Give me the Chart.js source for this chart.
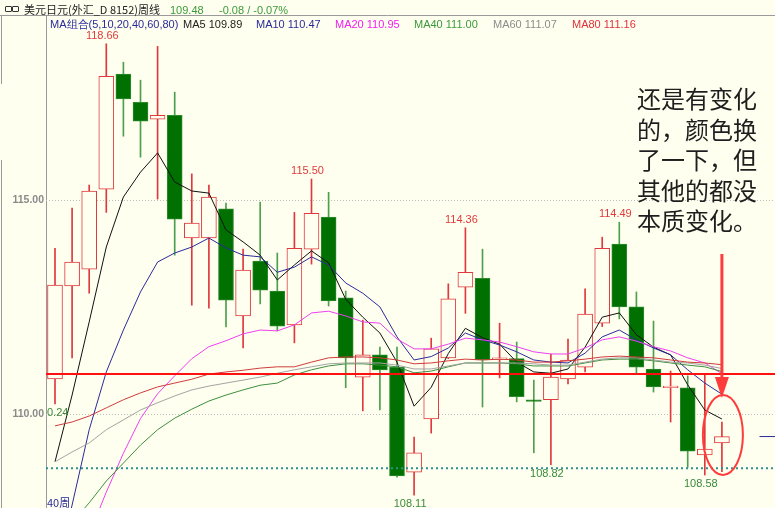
<!DOCTYPE html>
<html>
<head>
<meta charset="utf-8">
<script src="https://cdn.jsdelivr.net/npm/chart.js@4.4.1/dist/chart.umd.min.js"></script>
<style>
  body { margin: 0; background: #fffff0; overflow: hidden; }
  #wrap { position: relative; width: 775px; height: 508px; }
  canvas { position: absolute; left: 0; top: 0; }
  .t { position: absolute; white-space: nowrap; font-family: "Liberation Sans", Arial, sans-serif; font-size: 11px; line-height: 14px; }
  .cjk { font-family: "Noto Sans CJK SC", sans-serif; }
  .box { position: absolute; width: 5px; height: 4px; border: 1px solid #333; border-radius: 1px; }
  #note { position: absolute; left: 637px; top: 83px; font-family: "Noto Sans CJK SC", sans-serif; font-size: 24px; line-height: 30.5px; color: #1e1e1e; }
</style>
</head>
<body>
<div id="wrap">
  <canvas id="chart" width="775" height="508"></canvas>
  <div class="box" style="left:5px;top:6px"></div>
  <div class="box" style="left:12px;top:6px"></div>
  <div class="t cjk" style="left:24px;top:2px;color:#222">美元日元(外汇_D 8152)周线</div>
  <div class="t" style="left:170px;top:3px;color:#3a9a3a">109.48</div>
  <div class="t" style="left:219px;top:3px;color:#3a9a3a">-0.08 / -0.07%</div>

  <div class="t" style="left:50px;top:17px;color:#2b2b9a">MA组合(5,10,20,40,60,80)</div>
  <div class="t" style="left:183px;top:17px;color:#222">MA5 109.89</div>
  <div class="t" style="left:256px;top:17px;color:#2b2b9a">MA10 110.47</div>
  <div class="t" style="left:335px;top:17px;color:#f020f0">MA20 110.95</div>
  <div class="t" style="left:414px;top:17px;color:#3a9a3a">MA40 111.00</div>
  <div class="t" style="left:493px;top:17px;color:#8c8c8c">MA60 111.07</div>
  <div class="t" style="left:572px;top:17px;color:#e0303c">MA80 111.16</div>

  <div class="t" style="left:47px;top:405px;color:#3a8a3a">0.24</div>
  <div class="t cjk" style="left:47px;top:495px;color:#2b2b9a">40周</div>

  <div id="note">还是有变化<br>的，颜色换<br>了一下，但<br>其他的都没<br>本质变化。</div>
</div>
<script>
// weekly USD/JPY candles
const open  = [110.83,113.00,113.39,115.26,117.95,117.29,116.90,116.99,114.12,114.12,
               114.80,112.30,113.58,112.88,112.09,113.86,114.61,112.72,110.87,111.39,
               111.10,108.65,109.89,111.32,112.97,113.18,111.28,111.30,110.34,110.34,
               110.83,111.10,112.13,113.98,112.51,111.06,110.62,110.62,109.05,109.33];
const close = [113.02,113.56,115.22,117.90,117.37,116.85,116.99,114.56,114.47,115.08,
               112.67,113.37,112.90,112.06,113.88,114.70,112.65,111.32,111.39,111.04,
               108.56,109.10,111.53,112.70,113.32,111.27,111.32,110.41,110.30,110.87,
               111.27,112.34,113.88,112.51,111.10,110.64,110.66,109.14,109.19,109.48];
const high  = [113.88,114.82,115.36,118.66,118.23,117.81,118.60,117.53,115.62,115.36,
               114.94,113.86,114.96,113.77,114.72,115.50,115.19,112.88,112.20,111.57,
               111.57,109.47,111.78,113.05,114.36,113.86,112.13,111.69,110.80,111.41,
               111.76,112.93,114.14,114.49,112.86,112.18,111.01,110.90,110.92,109.82];
const low   = [110.24,111.32,112.83,114.72,116.50,116.01,115.03,113.72,112.55,112.48,
               112.04,111.55,112.58,111.95,111.67,113.51,112.53,110.62,110.08,110.10,
               108.53,108.11,109.56,111.30,112.36,110.17,110.85,110.29,109.10,108.82,
               110.71,110.99,112.05,112.23,110.97,110.52,109.82,108.76,108.58,108.66];

// moving averages (they include weeks before the window, so read, not computed)
const ma5  = [108.89,110.45,112.16,113.91,115.08,115.66,116.11,115.43,115.22,115.17,
              114.31,114.03,113.72,113.14,113.49,113.82,113.54,112.69,112.27,111.90,
              111.22,110.19,110.63,111.42,112.01,111.79,111.64,111.22,110.99,110.96,
              111.06,111.57,112.27,112.37,111.86,111.57,111.39,110.69,110.10,109.89];
const ma10 = [106.13,107.88,109.64,110.99,111.97,112.86,113.56,113.77,113.91,114.12,
              113.89,113.72,113.68,113.32,113.44,113.68,113.49,113.07,112.83,112.51,
              111.81,111.27,111.35,111.55,111.90,111.74,111.62,111.46,111.27,111.22,
              111.20,111.43,111.81,111.97,111.74,111.55,111.39,111.04,110.73,110.47];
const ma20 = [105.20,106.20,107.20,108.18,109.09,109.90,110.48,110.90,111.30,111.58,
              111.72,111.88,111.97,111.95,112.09,112.37,112.41,112.30,112.16,112.13,
              111.76,111.53,111.53,111.64,111.78,111.74,111.69,111.58,111.46,111.41,
              111.41,111.55,111.74,111.81,111.71,111.58,111.48,111.32,111.20,110.95];
const ma40 = [107.07,107.48,107.93,108.44,108.86,109.28,109.64,109.91,110.12,110.31,
              110.45,110.57,110.68,110.73,110.92,111.04,111.13,111.18,111.18,111.15,
              111.11,110.97,111.01,111.11,111.20,111.20,111.20,111.18,111.13,111.13,
              111.13,111.20,111.27,111.29,111.29,111.25,111.20,111.15,111.11,111.00];
const ma60 = [108.89,109.12,109.33,109.64,109.87,110.10,110.27,110.43,110.57,110.66,
              110.73,110.80,110.87,110.96,111.04,111.11,111.18,111.20,111.20,111.20,
              111.15,111.06,111.06,111.13,111.20,111.20,111.20,111.20,111.18,111.15,
              111.15,111.22,111.29,111.32,111.32,111.27,111.22,111.20,111.15,111.07];
const ma80 = [109.73,109.82,109.96,110.15,110.34,110.50,110.64,110.73,110.82,110.94,
              110.99,111.03,111.08,111.11,111.11,111.22,111.32,111.34,111.34,111.32,
              111.27,111.18,111.20,111.25,111.29,111.27,111.29,111.27,111.22,111.22,
              111.25,111.29,111.34,111.36,111.34,111.32,111.27,111.22,111.20,111.16];

const yTicks = [110, 115];
const refLevel = 110.94;      // red horizontal line
const supportLevel = 108.74;  // dotted teal line
const lastMark = 109.48;      // short navy dash on the right
const peaks = [3, 15, 24, 33];
const troughs = [21, 29, 38];

const xMin = -0.526, xMax = 42.105;
const BG = '#fffff0';
const RED = '#e0383c';
const GREEN = '#007000';
const GREEN_EDGE = '#2e8b2e';
const GREEN_WICK = '#4c9f4c';

const idx = open.map((_, i) => i);
const up = idx.map(i => close[i] >= open[i]);

function maLine(arr, color) {
    return {
        type: 'line',
        data: idx.map(i => ({ x: i, y: arr[i] })),
        borderColor: color,
        borderWidth: 1,
        pointRadius: 0,
        tension: 0,
        fill: false,
        order: 3
    };
}

const deco = {
    id: 'deco',
    beforeDraw(chart) {
        const ctx = chart.ctx;
        ctx.save();
        ctx.fillStyle = BG;
        ctx.fillRect(0, 0, chart.width, chart.height);
        ctx.strokeStyle = '#9a9a9a';
        ctx.lineWidth = 1;
        ctx.beginPath();
        ctx.moveTo(0, 15.5); ctx.lineTo(chart.width, 15.5);
        ctx.moveTo(chart.chartArea.left + 0.5, 16); ctx.lineTo(chart.chartArea.left + 0.5, chart.height);
        ctx.moveTo(1.5, 16); ctx.lineTo(1.5, 84);
        ctx.moveTo(1.5, 160); ctx.lineTo(1.5, chart.height);
        ctx.stroke();
        ctx.restore();
    },
    afterDatasetsDraw(chart) {
        const ctx = chart.ctx;
        const xs = chart.scales.x, ys = chart.scales.y;
        ctx.save();
        ctx.font = '11px "Liberation Sans", Arial, sans-serif';
        ctx.textAlign = 'center';
        ctx.textBaseline = 'middle';
        ctx.fillStyle = '#e03a3a';
        peaks.forEach(i => {
            ctx.fillText(high[i].toFixed(2), xs.getPixelForValue(i) - 4, ys.getPixelForValue(high[i]) - 8);
        });
        ctx.fillStyle = '#3a8a3a';
        troughs.forEach(i => {
            ctx.fillText(low[i].toFixed(2), xs.getPixelForValue(i) - 4, ys.getPixelForValue(low[i]) + 9);
        });

        // arrow + circle around the last candle
        const lx = xs.getPixelForValue(idx.length - 1);
        ctx.strokeStyle = '#ff3c3c';
        ctx.fillStyle = '#ff3c3c';
        ctx.lineWidth = 3;
        ctx.beginPath();
        ctx.moveTo(lx, 254); ctx.lineTo(lx, 380);
        ctx.stroke();
        ctx.beginPath();
        ctx.moveTo(lx - 7, 377); ctx.lineTo(lx + 7, 377); ctx.lineTo(lx, 398);
        ctx.closePath();
        ctx.fill();
        ctx.lineWidth = 2;
        ctx.beginPath();
        ctx.ellipse(lx + 1, 435, 20, 40, 0, 0, Math.PI * 2);
        ctx.stroke();
        ctx.restore();
    }
};

new Chart(document.getElementById('chart').getContext('2d'), {
    type: 'bar',
    data: {
        datasets: [
            {
                type: 'bar',
                data: idx.map(i => ({ x: i, y: [low[i], high[i]] })),
                backgroundColor: idx.map(i => up[i] ? RED : GREEN_WICK),
                barThickness: 1,
                grouped: false,
                order: 5
            },
            {
                type: 'bar',
                data: idx.map(i => ({ x: i, y: [open[i], close[i]] })),
                backgroundColor: idx.map(i => up[i] ? BG : GREEN),
                borderColor: idx.map(i => up[i] ? RED : GREEN_EDGE),
                borderWidth: 1,
                borderSkipped: false,
                barThickness: 15,
                grouped: false,
                order: 4
            },
            maLine(ma80, '#d03c3c'),
            maLine(ma60, '#a4a4a4'),
            maLine(ma40, '#3f8f3f'),
            maLine(ma20, '#ee40ee'),
            maLine(ma10, '#2b2b9a'),
            maLine(ma5, '#111111'),
            {
                type: 'line',
                data: [{ x: xMin, y: supportLevel }, { x: xMax, y: supportLevel }],
                borderColor: '#2f8f8f',
                borderWidth: 2,
                borderDash: [2, 3],
                pointRadius: 0,
                order: 2
            },
            {
                type: 'line',
                data: [{ x: xMin, y: refLevel }, { x: xMax, y: refLevel }],
                borderColor: '#ff1010',
                borderWidth: 2,
                pointRadius: 0,
                order: 1
            },
            {
                type: 'line',
                data: [{ x: 41.2, y: lastMark }, { x: xMax, y: lastMark }],
                borderColor: '#2b2b9a',
                borderWidth: 1,
                pointRadius: 0,
                order: 1
            }
        ]
    },
    options: {
        responsive: false,
        animation: false,
        events: [],
        layout: { autoPadding: false, padding: { top: 16, left: 0, right: 0, bottom: 0 } },
        plugins: { legend: { display: false }, tooltip: { enabled: false } },
        scales: {
            x: { type: 'linear', min: xMin, max: xMax, offset: false, display: false },
            y: {
                min: 107.81,
                max: 119.31,
                position: 'left',
                afterFit: s => {
                    s.width = 46;
                    s.paddingTop = 0;
                    s.paddingBottom = 0;
                },
                afterBuildTicks: s => { s.ticks = yTicks.map(v => ({ value: v })); },
                ticks: {
                    callback: v => v.toFixed(2),
                    color: '#8a8a8a',
                    padding: 2,
                    font: { family: 'Liberation Sans', size: 10.5, weight: 'bold' }
                },
                grid: { color: '#bdbdbd', drawTicks: false, lineWidth: 1 },
                border: { display: false, dash: [1, 2] }
            }
        }
    },
    plugins: [deco]
});
</script>
</body>
</html>
